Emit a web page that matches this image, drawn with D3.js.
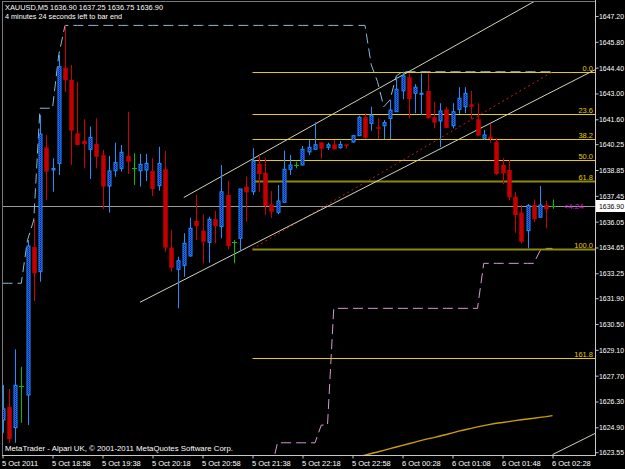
<!DOCTYPE html>
<html><head><meta charset="utf-8">
<script src="https://cdn.jsdelivr.net/npm/d3@7"></script>
<style>body{margin:0;background:#000;}svg{display:block;}</style>
</head><body>
<svg id="c" width="625" height="469"></svg>
<script>
// ---- DATA (XAUUSD M5) ----
const opens=[1625.30,1626.01,1624.88,1627.12,1626.65,1634.68,1633.34,1640.08,1638.85,1639.21,
1644.40,1643.73,1640.84,1640.44,1639.97,1640.26,1639.65,1637.98,1638.81,1638.94,
1639.61,1638.96,1638.81,1638.85,1638.80,1638.00,1638.89,1634.64,1633.47,1633.68,
1634.19,1636.09,1635.56,1634.93,1636.18,1635.78,1637.50,1634.95,1635.15,1637.95,
1637.67,1639.18,1638.70,1636.99,1636.56,1637.10,1638.89,1639.12,1639.12,1639.83,
1639.97,1640.35,1640.08,1640.24,1640.06,1640.24,1640.37,1640.71,1641.71,1641.38,
1641.17,1641.25,1641.65,1642.01,1643.14,1643.88,1643.01,1642.96,1643.14,1641.71,
1641.51,1642.14,1641.25,1642.14,1642.28,1642.41,1641.60,1640.57,1640.66,1640.39,
1639.12,1638.85,1637.40,1636.54,1635.56,1636.95,1636.29,1636.95,1636.90];
const highs=[1627.20,1626.97,1629.13,1628.18,1635.05,1636.14,1641.83,1640.75,1639.49,1645.09,
1646.69,1644.55,1643.64,1641.60,1641.20,1641.65,1639.94,1639.61,1640.33,1640.21,
1642.01,1639.76,1639.72,1639.72,1639.49,1640.11,1639.88,1635.60,1634.15,1635.42,
1636.26,1637.50,1636.45,1636.32,1636.64,1639.12,1638.27,1635.05,1637.82,1638.49,
1640.03,1639.66,1639.49,1637.71,1638.04,1639.90,1639.66,1639.30,1640.15,1640.48,
1641.44,1640.35,1640.33,1640.48,1640.42,1640.24,1640.75,1641.80,1641.93,1642.28,
1641.65,1641.56,1642.65,1643.95,1644.18,1644.09,1643.51,1644.09,1644.09,1642.55,
1642.47,1642.28,1642.47,1643.34,1643.34,1643.14,1642.47,1641.02,1641.35,1640.57,
1639.49,1639.39,1637.67,1636.95,1637.01,1637.26,1637.98,1637.19,1637.25];
const lows=[1624.60,1624.06,1624.06,1625.15,1625.02,1631.75,1632.79,1637.22,1637.67,1638.58,
1643.08,1639.12,1640.18,1638.94,1638.36,1638.94,1636.72,1636.54,1638.49,1638.76,
1638.63,1638.04,1637.95,1638.25,1637.44,1637.73,1634.42,1633.34,1631.35,1633.06,
1634.15,1635.05,1633.79,1633.82,1634.88,1635.15,1634.55,1633.79,1634.47,1636.05,
1637.50,1637.67,1636.41,1636.26,1636.45,1637.10,1638.58,1638.94,1639.12,1639.66,
1639.97,1639.46,1639.94,1639.97,1640.01,1640.01,1640.33,1640.71,1640.55,1640.98,
1640.53,1640.53,1640.53,1642.01,1642.68,1641.65,1641.93,1641.83,1641.65,1641.11,
1640.10,1641.13,1641.11,1641.89,1641.93,1641.60,1640.71,1640.48,1640.33,1638.58,
1638.09,1637.22,1635.45,1634.88,1634.60,1636.05,1636.29,1635.69,1636.75];
const closes=[1625.90,1624.25,1627.18,1627.12,1634.73,1633.25,1640.80,1638.76,1638.93,1644.45,
1643.73,1640.98,1640.21,1640.26,1640.62,1639.57,1637.95,1638.80,1639.25,1639.81,
1639.30,1638.96,1639.16,1639.21,1637.82,1639.21,1634.64,1633.55,1633.93,1634.88,
1635.69,1635.81,1634.96,1636.18,1635.81,1637.67,1634.73,1634.95,1637.82,1637.64,
1639.34,1638.63,1636.90,1636.59,1637.17,1638.89,1639.12,1639.12,1639.97,1640.08,
1640.22,1640.01,1640.22,1639.97,1640.24,1640.17,1640.71,1641.71,1640.60,1641.82,
1641.11,1641.42,1642.10,1643.23,1643.95,1642.70,1643.34,1643.01,1641.65,1641.42,
1642.05,1641.13,1642.01,1642.74,1643.01,1642.28,1640.71,1640.75,1640.53,1638.63,
1638.67,1637.37,1636.41,1634.96,1636.92,1636.18,1636.95,1636.72,1636.90];

// highest-high / lowest-low dashed indicator lines
const upperBand=[1632.71,1632.71,1632.71,1632.71,1635.05,1636.14,1642.20,1642.20,1642.20,1645.09,
1646.69,1646.69,1646.69,1646.69,1646.69,1646.69,1646.69,1646.69,1646.69,1646.69,
1646.69,1646.69,1646.69,1646.69,1646.69,1646.69,1646.69,1646.69,1646.69,1646.69,
1646.69,1646.69,1646.69,1646.69,1646.69,1646.69,1646.69,1646.69,1646.69,1646.69,
1646.69,1646.69,1646.69,1646.69,1646.69,1646.69,1646.69,1646.69,1646.69,1646.69,
1646.69,1646.69,1646.69,1646.69,1646.69,1646.69,1646.69,1646.69,1646.69,1644.55,
1643.64,1642.28,1642.65,1643.95,1644.18,1644.18,1644.18,1644.18,1644.18,1644.18,
1644.18,1644.18,1644.18,1644.18,1644.18,1644.18,1644.18,1644.18,1644.18,1644.18,
1644.18,1644.18,1644.18,1644.18,1644.18,1644.18,1644.18,1644.18,1644.18];
const lowerBand=[1622.60,1622.60,1622.60,1622.60,1622.60,1622.60,1622.60,1622.60,1622.60,1622.60,
1622.60,1622.60,1622.60,1622.60,1622.60,1622.60,1622.60,1622.60,1622.60,1622.60,
1622.60,1622.60,1622.60,1622.60,1622.60,1622.60,1622.60,1622.60,1622.60,1622.60,
1622.60,1622.60,1622.60,1622.60,1622.60,1622.60,1622.60,1622.60,1622.60,1622.60,
1622.60,1622.60,1622.60,1622.60,1624.06,1624.06,1624.06,1624.06,1624.06,1624.06,
1624.06,1625.02,1625.02,1631.35,1631.35,1631.35,1631.35,1631.35,1631.35,1631.35,
1631.35,1631.35,1631.35,1631.35,1631.35,1631.35,1631.35,1631.35,1631.35,1631.35,
1631.35,1631.35,1631.35,1631.35,1631.35,1631.35,1631.35,1633.79,1633.79,1633.79,
1633.79,1633.79,1633.79,1633.79,1633.79,1633.79,1634.47,1634.60,1634.60];
// slow moving average (only its tail is inside the window)
const maStart=57;
const maValues=[1623.30,1623.39,1623.48,1623.56,1623.65,1623.74,1623.83,1623.92,1624.01,1624.10,
1624.19,1624.27,1624.34,1624.43,1624.51,1624.60,1624.69,1624.77,1624.84,1624.92,
1624.99,1625.06,1625.12,1625.16,1625.21,1625.26,1625.31,1625.35,1625.39,1625.44,
1625.48,1625.53];

const yTicks=[1647.20,1645.80,1644.40,1643.00,1641.60,1640.25,1638.85,1637.45,1636.05,
1634.65,1633.25,1631.90,1630.50,1629.10,1627.70,1626.30,1624.90,1623.55];
const xTickIdx=[0,8,16,24,32,40,48,56,64,72,80,88];
const xTickLabels=["5 Oct 2011","5 Oct 18:58","5 Oct 19:38","5 Oct 20:18","5 Oct 20:58",
"5 Oct 21:38","5 Oct 22:18","5 Oct 22:58","6 Oct 00:28","6 Oct 01:08","6 Oct 01:48","6 Oct 02:28"];

const fibIdx=[40,88];
const fibPrice=[1634.58,1644.17];
const fibLevels=[0,23.6,38.2,50,61.8,100,161.8];
const fibLabels=["0.0","23.6","38.2","50.0","61.8","100.0","161.8"];

const chanUpperIdx=[29,95], chanUpperPrice=[1637.36,1649.87];
const chanLowerIdx=[22,95], chanLowerPrice=[1631.68,1644.32];
const extraLineIdx=[88,95], extraLinePrice=[1623.42,1624.60];

const symbol="XAUUSD,M5", lastBar="1636.90 1637.25 1636.75 1636.90";
const timerText="4 minutes 24 seconds left to bar end";
const bidPrice=1636.90;
const copyright="MetaTrader - Alpari UK, \u00A9 2001-2011 MetaQuotes Software Corp.";

// ---- DRAW ----
const W=625,H=469;
const P={l:2,r:595,t:1,b:455};
const x=d3.scaleLinear().domain([0,88]).range([2.5,552.5]);
const y=d3.scaleLinear().domain([1623.55,1647.20]).range([452.2,16]);
const svg=d3.select("#c");
const FONT="'Liberation Sans', Arial, sans-serif";

svg.append("rect").attr("width",W).attr("height",H).attr("fill","#000");
const defs=svg.append("defs");
defs.append("clipPath").attr("id","plot").append("rect")
  .attr("x",P.l+1).attr("y",P.t+1).attr("width",P.r-P.l-1).attr("height",P.b-P.t-1);
const pat=defs.append("pattern").attr("id","bull").attr("width",2).attr("height",2)
  .attr("patternUnits","userSpaceOnUse");
pat.append("rect").attr("width",2).attr("height",2).attr("fill","#06107a");
pat.append("rect").attr("width",1).attr("height",1).attr("fill","#1e5cff");
pat.append("rect").attr("x",1).attr("y",1).attr("width",1).attr("height",1).attr("fill","#1e5cff");

// frame
svg.append("rect").attr("x",P.l+0.5).attr("y",P.t+0.5).attr("width",P.r-P.l).attr("height",P.b-P.t)
  .attr("fill","none").attr("stroke","#7a7a7a");
svg.append("line").attr("x1",P.r+0.5).attr("x2",P.r+0.5).attr("y1",0).attr("y2",P.b+0.5).attr("stroke","#c8c8c8");
svg.append("line").attr("x1",P.l).attr("x2",P.r+1).attr("y1",P.b+0.5).attr("y2",P.b+0.5).attr("stroke","#c8c8c8");

const g=svg.append("g").attr("clip-path","url(#plot)");
const idx=d3.range(opens.length);

// current price line
g.append("line").attr("x1",P.l).attr("x2",P.r).attr("y1",Math.round(y(bidPrice))+0.5).attr("y2",Math.round(y(bidPrice))+0.5)
  .attr("stroke","#9a9a9a");

// indicator dashed bands
const lineGen=d3.line().x(d=>x(d[0])).y(d=>y(d[1]));
g.append("path").attr("d",lineGen(idx.map(i=>[i,upperBand[i]]))).attr("fill","none")
  .attr("stroke","#8cbad6").attr("stroke-dasharray","10,5");
g.append("path").attr("d",lineGen(idx.map(i=>[i,lowerBand[i]]))).attr("fill","none")
  .attr("stroke","#d49ad4").attr("stroke-dasharray","10,5");
// moving average
g.append("path").attr("d",lineGen(maValues.map((v,k)=>[maStart+k,v]))).attr("fill","none")
  .attr("stroke","#caa200").attr("stroke-width",1.4);

// fibonacci
const fHigh=fibPrice[1], fLow=fibPrice[0];
fibLevels.forEach((lv,k)=>{
  const p=fHigh-(fHigh-fLow)*lv/100;
  const yy=Math.round(y(p))+0.5;
  const olive=(lv===61.8||lv===100);
  g.append("line").attr("x1",x(fibIdx[0])).attr("x2",P.r).attr("y1",yy).attr("y2",yy)
    .attr("stroke",olive?"#8c8c08":"#e6cc00").attr("stroke-width",olive?2:1);
  g.append("text").attr("x",P.r-2).attr("y",yy-2).attr("text-anchor","end")
    .attr("fill","#e6cc00").attr("font-family",FONT).attr("font-size",7.5).text(fibLabels[k]);
});
g.append("line").attr("x1",x(fibIdx[0])).attr("y1",y(fibPrice[0])).attr("x2",x(fibIdx[1])).attr("y2",y(fibPrice[1]))
  .attr("stroke","#c81c1c").attr("stroke-dasharray","2,3");

// trend lines
[[chanUpperIdx,chanUpperPrice],[chanLowerIdx,chanLowerPrice],[extraLineIdx,extraLinePrice]].forEach(([ii,pp])=>{
  g.append("line").attr("x1",x(ii[0])).attr("y1",y(pp[0])).attr("x2",x(ii[1])).attr("y2",y(pp[1]))
    .attr("stroke","#d2d2bc").attr("stroke-width",1);
});

// candles
idx.forEach(i=>{
  const cx=Math.round(x(i))+0.5;
  const o=opens[i],c=closes[i],h=highs[i],l=lows[i];
  const doji=(o===c), bull=c>o;
  const col=doji?"#00c000":(bull?"#1e90ff":"#d00000");
  g.append("line").attr("x1",cx).attr("x2",cx).attr("y1",y(h)).attr("y2",y(l)).attr("stroke",col);
  if(doji){
    g.append("line").attr("x1",cx-2.5).attr("x2",cx+2.5).attr("y1",Math.round(y(o))+0.5).attr("y2",Math.round(y(o))+0.5).attr("stroke",col);
  } else if(bull){
    const top=y(c),bot=y(o);
    g.append("rect").attr("x",cx-1.5).attr("y",top).attr("width",3).attr("height",Math.max(1,bot-top))
      .attr("fill","url(#bull)").attr("stroke","#1e90ff").attr("stroke-width",1);
  } else {
    const top=y(o),bot=y(c);
    g.append("rect").attr("x",cx-2.25).attr("y",top).attr("width",4.5).attr("height",Math.max(1.5,bot-top))
      .attr("fill","#c40000");
  }
});

// timer label
g.append("text").attr("x",x(88)+11).attr("y",y(bidPrice)+3).attr("fill","#c81ec8")
  .attr("font-family",FONT).attr("font-size",8).text("<4:24");

// axes
const ya=svg.append("g").attr("transform",`translate(${P.r+0.5},0)`)
  .call(d3.axisRight(y).tickValues(yTicks).tickSize(3).tickFormat(d3.format(".2f")));
ya.select(".domain").remove();
ya.selectAll("line").attr("stroke","#c8c8c8");
ya.selectAll("text").attr("fill","#fff").attr("font-family",FONT).attr("font-size",7.5).attr("x",3.5)
  .attr("textLength",25).attr("lengthAdjust","spacingAndGlyphs");

const xa=svg.append("g").attr("transform",`translate(0,${P.b+0.5})`)
  .call(d3.axisBottom(x).tickValues(xTickIdx).tickSize(3).tickFormat((d,i)=>xTickLabels[i]));
xa.select(".domain").remove();
xa.selectAll("line").attr("stroke","#c8c8c8");
xa.selectAll("text").attr("fill","#fff").attr("font-family",FONT).attr("font-size",7.5)
  .attr("text-anchor","start").attr("x",-1).attr("y",5);

// bid price box on axis
const by=Math.round(y(bidPrice));
svg.append("rect").attr("x",P.r+1).attr("y",by-6).attr("width",W-P.r-1).attr("height",12).attr("fill","#fff");
svg.append("text").attr("x",P.r+4).attr("y",by+3).attr("fill","#000").attr("font-family",FONT)
  .attr("font-size",7.5).attr("textLength",25).attr("lengthAdjust","spacingAndGlyphs").text(d3.format(".2f")(bidPrice));

// header texts
svg.append("text").attr("x",5).attr("y",10).attr("fill","#fff").attr("font-family",FONT).attr("font-size",8)
  .attr("textLength",158).attr("lengthAdjust","spacingAndGlyphs")
  .text(symbol+"  "+lastBar);
svg.append("text").attr("x",5).attr("y",19).attr("fill","#fff").attr("font-family",FONT).attr("font-size",8)
  .attr("textLength",117).attr("lengthAdjust","spacingAndGlyphs").text(timerText);
svg.append("text").attr("x",5).attr("y",451).attr("fill","#fff").attr("font-family",FONT).attr("font-size",8)
  .attr("textLength",228).attr("lengthAdjust","spacingAndGlyphs").text(copyright);
</script>
</body></html>
